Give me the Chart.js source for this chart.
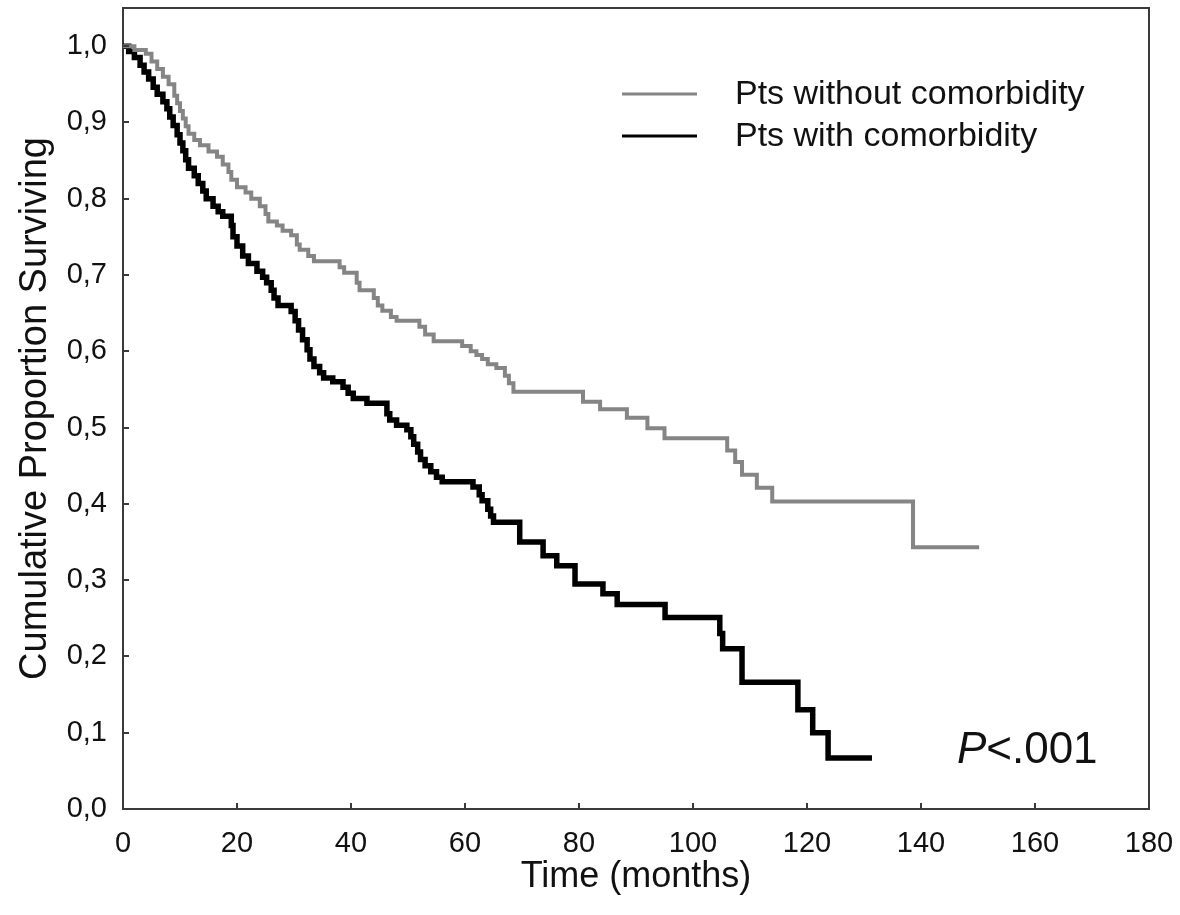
<!DOCTYPE html>
<html>
<head>
<meta charset="utf-8">
<title>Cumulative Proportion Surviving</title>
<script src="https://cdn.jsdelivr.net/npm/chart.js@4.4.1/dist/chart.umd.min.js"></script>
<style>
  html, body { margin: 0; padding: 0; background: #fff; }
  #km-chart { display: block; }
</style>
</head>
<body>
<canvas id="km-chart" width="1180" height="915"></canvas>
<script>
const seriesLabels = ["Pts without comorbidity", "Pts with comorbidity"];

// Kaplan-Meier steps: time of event (months) and survival right after it
const withoutTimes = [0, 2, 4, 5, 6, 7, 8, 9, 9.5, 10, 10.5, 11, 11.5, 12.5, 13.5, 15, 16.5, 17.5, 18.5, 19,
  20, 21.5, 22.5, 24, 25, 25.5, 27, 28, 29.5, 30.5, 31, 32.5, 33.5, 38, 38.8, 41, 41.5, 44, 44.7, 45.5,
  47, 48, 52, 53, 54.5, 59.5, 61, 62, 63, 64, 65.5, 67, 67.7, 68.5, 80.7, 83.7, 88.4, 92, 95, 106,
  107.4, 108.6, 111.2, 113.9, 138.6, 150.2];
const withoutSurv = [1.0, 0.995, 0.99, 0.98, 0.97, 0.96, 0.95, 0.935, 0.925, 0.915, 0.905, 0.895, 0.885, 0.877, 0.87, 0.862, 0.855, 0.845, 0.835, 0.825,
  0.815, 0.808, 0.8, 0.79, 0.78, 0.77, 0.765, 0.758, 0.752, 0.74, 0.733, 0.725, 0.718, 0.71, 0.703, 0.69, 0.68, 0.67, 0.66, 0.653,
  0.645, 0.64, 0.632, 0.622, 0.613, 0.607, 0.6, 0.595, 0.59, 0.583, 0.578, 0.568, 0.558, 0.547, 0.534, 0.524, 0.513, 0.499, 0.486, 0.47,
  0.455, 0.438, 0.421, 0.403, 0.343, 0.343];

const withTimes = [0, 1, 2, 3, 3.7, 4.5, 5.3, 6, 7, 7.7, 8.2, 8.8, 9.5, 10, 10.5, 11, 11.5, 12.5, 13.2, 14,
  14.6, 15.8, 16.7, 17.5, 19, 19.3, 20, 21, 22, 23.5, 24.5, 25.2, 26, 26.5, 27.2, 29.5, 30.2, 30.8, 31.5, 32.3,
  32.8, 33.5, 34.5, 35.2, 36.8, 38.6, 39.5, 40.4, 42.8, 46.3, 46.8, 48, 49.8, 50.5, 51, 51.7, 52.2, 53, 54, 55,
  56, 61.4, 62.5, 63, 64, 64.5, 65, 69.6, 73.7, 76.1, 79.3, 84.2, 86.7, 95.1, 104.7, 105.2, 108.6, 118.4, 121, 123.7,
  131.4];
const withSurv = [1.0, 0.993, 0.985, 0.975, 0.966, 0.957, 0.946, 0.937, 0.927, 0.918, 0.907, 0.896, 0.884, 0.873, 0.863, 0.851, 0.84, 0.83, 0.82, 0.81,
  0.8, 0.79, 0.783, 0.777, 0.765, 0.75, 0.738, 0.725, 0.715, 0.705, 0.697, 0.69, 0.68, 0.67, 0.66, 0.652, 0.64, 0.628, 0.615, 0.602,
  0.59, 0.58, 0.572, 0.565, 0.56, 0.553, 0.545, 0.538, 0.532, 0.518, 0.51, 0.503, 0.497, 0.488, 0.478, 0.468, 0.458, 0.45, 0.442, 0.435,
  0.429, 0.422, 0.412, 0.404, 0.393, 0.384, 0.376, 0.35, 0.332, 0.319, 0.295, 0.282, 0.268, 0.251, 0.23, 0.21, 0.166, 0.13, 0.1, 0.067,
  0.067];

const xTicks = [0, 20, 40, 60, 80, 100, 120, 140, 160, 180];
const yTicks = [0, 0.1, 0.2, 0.3, 0.4, 0.5, 0.6, 0.7, 0.8, 0.9, 1.0];

const FONT = '"Liberation Sans", Arial, sans-serif';
const INK = "#111";
const AXIS = "#3a3a3a";

function toPoints(times, surv) {
  return times.map((t, i) => ({ x: t, y: surv[i] }));
}

// box on top/right, inward tick marks, legend and p-value
const decorations = {
  id: "decorations",
  afterDatasetsDraw(chart) {
    const { ctx, chartArea: area, scales } = chart;
    const xs = scales.x;
    const ys = scales.y;
    ctx.save();

    ctx.strokeStyle = AXIS;
    ctx.lineWidth = 2;
    ctx.beginPath();
    ctx.moveTo(area.left, area.top);
    ctx.lineTo(area.right, area.top);
    ctx.lineTo(area.right, area.bottom);
    ctx.stroke();

    ctx.beginPath();
    yTicks.forEach((v) => {
      const y = Math.round(ys.getPixelForValue(v));
      ctx.moveTo(area.left, y);
      ctx.lineTo(area.left + 6, y);
    });
    xTicks.forEach((v) => {
      const x = Math.round(xs.getPixelForValue(v));
      ctx.moveTo(x, area.bottom);
      ctx.lineTo(x, area.bottom - 6);
    });
    ctx.stroke();

    // legend
    const lx0 = area.left + 499;
    const lx1 = area.left + 574;
    const tx = area.left + 612;
    const rows = [{ line: 94, base: 104 }, { line: 136, base: 146 }];
    chart.data.datasets.forEach((ds, i) => {
      ctx.strokeStyle = ds.borderColor;
      ctx.lineWidth = 3;
      ctx.beginPath();
      ctx.moveTo(lx0, rows[i].line);
      ctx.lineTo(lx1, rows[i].line);
      ctx.stroke();
      ctx.fillStyle = INK;
      ctx.font = "34px " + FONT;
      ctx.textBaseline = "alphabetic";
      ctx.textAlign = "left";
      ctx.fillText(ds.label, tx, rows[i].base);
    });

    // p-value
    let px = xs.getPixelForValue(146.3);
    const py = ys.getPixelForValue(0.06);
    ctx.fillStyle = INK;
    ctx.font = "italic 44px " + FONT;
    ctx.fillText("P", px, py);
    px += ctx.measureText("P").width;
    ctx.font = "44px " + FONT;
    ctx.fillText("<.001", px, py);

    ctx.restore();
  },
};

new Chart(document.getElementById("km-chart"), {
  type: "line",
  data: {
    datasets: [
      {
        label: seriesLabels[0],
        data: toPoints(withoutTimes, withoutSurv),
        borderColor: "#858585",
        borderWidth: 4,
        stepped: true,
        pointRadius: 0,
        fill: false,
        borderJoinStyle: "miter",
      },
      {
        label: seriesLabels[1],
        data: toPoints(withTimes, withSurv),
        borderColor: "#000",
        borderWidth: 5.5,
        stepped: true,
        pointRadius: 0,
        fill: false,
        borderJoinStyle: "miter",
      },
    ],
  },
  options: {
    responsive: false,
    animation: false,
    devicePixelRatio: 1,
    layout: { padding: { top: 8, right: 31, left: 0, bottom: 0 } },
    plugins: {
      legend: { display: false },
      tooltip: { enabled: false },
    },
    scales: {
      x: {
        type: "linear",
        min: 0,
        max: 180,
        afterBuildTicks: (s) => { s.ticks = xTicks.map((v) => ({ value: v })); },
        afterFit: (s) => { s.height = 106; s.paddingLeft = 0; s.paddingRight = 0; },
        grid: { display: false },
        border: { display: true, color: AXIS, width: 2 },
        ticks: {
          color: INK,
          font: { size: 29, family: FONT },
          padding: 10,
          maxRotation: 0,
          autoSkip: false,
        },
        title: {
          display: true,
          text: "Time (months)",
          color: INK,
          font: { size: 36, family: FONT },
          padding: { top: 0, bottom: 16 },
        },
      },
      y: {
        type: "linear",
        min: 0,
        max: 1.05,
        afterBuildTicks: (s) => { s.ticks = yTicks.map((v) => ({ value: v })); },
        afterFit: (s) => { s.width = 123; s.paddingTop = 0; s.paddingBottom = 0; },
        grid: { display: false },
        border: { display: true, color: AXIS, width: 2 },
        ticks: {
          color: INK,
          font: { size: 29, family: FONT },
          padding: 8,
          callback: (v) => v.toFixed(1).replace(".", ","),
        },
        title: {
          display: true,
          text: "Cumulative Proportion Surviving",
          color: INK,
          font: { size: 38, family: FONT },
          padding: { top: 13, bottom: 0 },
        },
      },
    },
  },
  plugins: [decorations],
});
</script>
</body>
</html>
